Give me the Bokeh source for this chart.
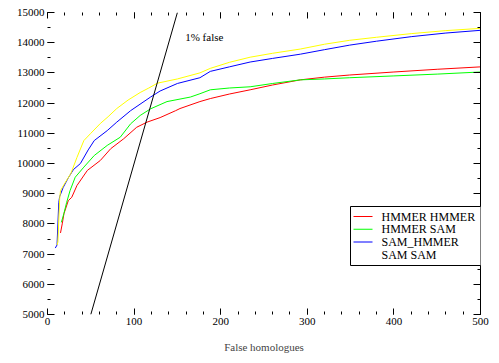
import math
from bokeh.plotting import figure
from bokeh.models import (Range1d, LinearAxis, FixedTicker, Label, BoxAnnotation)
from bokeh.embed import file_html
from bokeh.resources import INLINE

# ---- data ----
hh_false = [15, 17, 19, 24, 28, 34, 46, 61, 73, 88, 103, 115, 130, 148, 153, 176, 188, 210, 234, 260, 292, 320, 349, 400, 450, 500]
hh_true = [7700, 8000, 8340, 8770, 8880, 9270, 9770, 10100, 10490, 10820, 11200, 11370, 11520, 11750, 11820, 12050, 12150, 12300, 12440, 12600, 12770, 12860, 12930, 13030, 13120, 13200]

hs_false = [16, 19, 22, 26, 32, 42, 54, 69, 84, 96, 107, 119, 138, 165, 176, 188, 210, 234, 260, 292, 320, 349, 400, 450, 500]
hs_true = [8050, 8350, 8700, 9100, 9545, 9880, 10265, 10600, 10870, 11315, 11590, 11810, 12050, 12200, 12310, 12440, 12500, 12540, 12650, 12770, 12800, 12840, 12900, 12960, 13030]

sh_false = [9, 11, 13, 14, 18, 24, 30, 38, 47, 54, 69, 80, 96, 119, 130, 150, 176, 188, 210, 234, 260, 292, 320, 349, 380, 420, 460, 500]
sh_true = [7200, 7300, 8700, 8900, 9200, 9525, 9800, 10000, 10450, 10760, 11090, 11370, 11750, 12200, 12400, 12650, 12840, 13050, 13200, 13360, 13480, 13620, 13770, 13920, 14050, 14200, 14320, 14410]

ss_false = [11, 12, 14, 15, 19, 27, 34, 42, 50, 61, 70, 80, 93, 107, 117, 127, 150, 176, 188, 210, 234, 260, 292, 320, 349, 380, 420, 460, 500]
ss_true = [7300, 7400, 8800, 9100, 9300, 9670, 10200, 10760, 11000, 11325, 11550, 11820, 12100, 12350, 12500, 12660, 12800, 13000, 13150, 13350, 13520, 13650, 13790, 13950, 14080, 14180, 14300, 14400, 14475]

pct_false = [50, 150]
pct_true = [5000, 15000]

series_names = ["HMMER HMMER", "HMMER SAM", "SAM_HMMER", "SAM SAM"]
series_colors = ["#ff0000", "#00ff00", "#0000ff", "#ffff00"]
legend_swatch = [True, True, True, False]

x_major = [0, 100, 200, 300, 400, 500]
x_minor = list(range(0, 501, 20))
y_major = list(range(5000, 15001, 1000))
y_minor = list(range(5000, 15001, 500))

FONT = "Liberation Serif"

p = figure(width=499, height=363, output_backend="svg", toolbar_location=None,
           x_range=Range1d(0, 500), y_range=Range1d(5000, 15000),
           x_axis_location=None, y_axis_location=None,
           min_border_left=47, min_border_right=19, min_border_top=12, min_border_bottom=49)
p.grid.visible = False
p.outline_line_color = None
p.background_fill_color = "white"
p.border_fill_color = "white"

def style(ax, labels=True):
    ax.axis_line_color = None
    ax.major_tick_in = 6
    ax.major_tick_out = 0
    ax.minor_tick_in = 3
    ax.minor_tick_out = 0
    ax.major_tick_line_color = "black"
    ax.minor_tick_line_color = "black"
    ax.major_label_text_font = FONT
    ax.major_label_text_color = "black"
    ax.major_label_text_font_size = "11px"
    if not labels:
        ax.major_label_overrides = {t: "" for t in ax.ticker.ticks}
        ax.major_label_standoff = 0

bottom = LinearAxis(ticker=FixedTicker(ticks=x_major, minor_ticks=x_minor))
style(bottom)
bottom.major_label_standoff = 3
bottom.axis_label = "False homologues"
bottom.axis_label_text_font = FONT
bottom.axis_label_text_font_size = "11px"
bottom.axis_label_text_font_style = "normal"
bottom.axis_label_standoff = 13
p.add_layout(bottom, "below")

left = LinearAxis(ticker=FixedTicker(ticks=y_major, minor_ticks=y_minor))
style(left)
left.major_tick_in = 7
left.major_label_standoff = 3
p.add_layout(left, "left")

top = LinearAxis(ticker=FixedTicker(ticks=x_major, minor_ticks=x_minor))
style(top, labels=False)
p.add_layout(top, "above")

right = LinearAxis(ticker=FixedTicker(ticks=y_major, minor_ticks=y_minor))
style(right, labels=False)
right.major_tick_in = 7
right.axis_line_color = "black"
p.add_layout(right, "right")

for xs, ys, c in [(hh_false, hh_true, series_colors[0]), (hs_false, hs_true, series_colors[1]),
                  (sh_false, sh_true, series_colors[2]), (ss_false, ss_true, series_colors[3])]:
    p.line(xs, ys, line_color=c, line_width=1)

p.line(pct_false, pct_true, line_color="black", line_width=1)

p.add_layout(Label(x=159, y=14200, text="1% false", text_font=FONT, text_font_size="11px",
                   text_color="black", text_align="left", text_baseline="middle"))

p.add_layout(Label(x=-36, y=144, x_units="screen", y_units="screen", text="True homologues",
                   angle=math.pi / 2, text_font=FONT, text_font_size="11px", text_color="black",
                   text_align="center", text_baseline="middle"))

# ---- legend box (screen units, relative to the plot frame) ----
LEG_L, LEG_R, LEG_B, LEG_T = 303, 436, 49, 108
p.add_layout(BoxAnnotation(left=LEG_L, right=LEG_R, bottom=LEG_B, top=LEG_T,
                           left_units="screen", right_units="screen",
                           bottom_units="screen", top_units="screen",
                           fill_color="white", fill_alpha=1.0,
                           line_color="black", line_width=1, line_alpha=1.0))
row_step = 12.7
for i, (name, col, sw) in enumerate(zip(series_names, series_colors, legend_swatch)):
    yc = LEG_T - 10 - i * row_step
    if sw:
        p.add_layout(BoxAnnotation(left=LEG_L + 3, right=LEG_L + 22, bottom=yc - 0.5, top=yc + 0.5,
                                   left_units="screen", right_units="screen",
                                   bottom_units="screen", top_units="screen",
                                   fill_color=col, fill_alpha=1.0, line_color=None))
    p.add_layout(Label(x=LEG_L + 31, y=yc, x_units="screen", y_units="screen", text=name,
                       text_font=FONT, text_font_size="12px", text_color="black",
                       text_align="left", text_baseline="middle"))

open("out.html", "w").write(file_html(p, INLINE))
